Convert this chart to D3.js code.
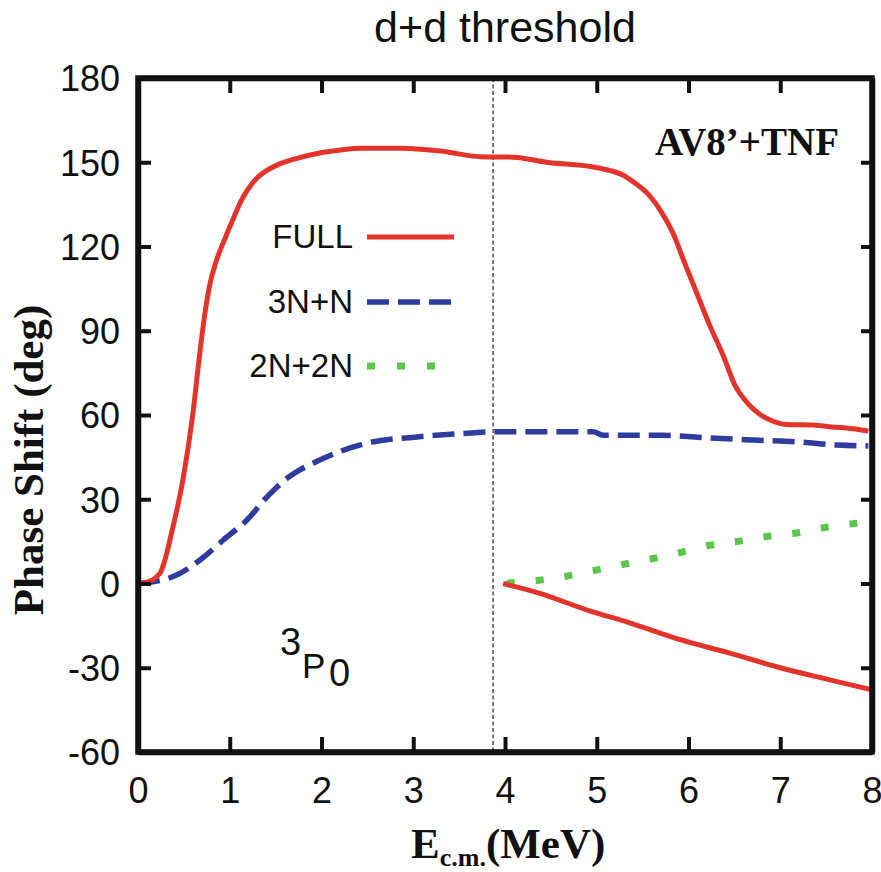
<!DOCTYPE html>
<html>
<head>
<meta charset="utf-8">
<script src="https://cdn.jsdelivr.net/npm/d3@7"></script>
<style>
  body { margin: 0; background: #fff; }
  svg { display: block; }
  .tick text { font-family: "Liberation Sans", Arial, sans-serif; font-size: 36px; fill: #111; }
</style>
</head>
<body>
<svg id="chart" width="881" height="872"></svg>
<script>
// FULL, first branch (from 0 up to 8 MeV)
var fullE = [0, 0.1, 0.24, 0.38, 0.49, 0.6, 0.67, 0.72, 0.78, 0.85, 0.95, 1.04, 1.12, 1.19, 1.3, 1.4, 1.55, 1.69, 1.98, 2.2, 2.42, 2.86, 3.0, 3.3, 3.73, 4.09, 4.45, 4.96, 5.15, 5.29, 5.42, 5.55, 5.7, 5.83, 5.96, 6.09, 6.23, 6.38, 6.45, 6.5, 6.56, 6.67, 6.78, 6.89, 7.07, 7.36, 7.6, 7.72, 7.96];
var fullDeg = [0, 0.5, 3.7, 20, 37, 61, 81, 94, 106, 114.5, 123, 130, 136, 140, 144.5, 147, 149.5, 151, 153.3, 154.3, 155, 155, 154.8, 154, 152, 151.8, 150, 148.3, 147, 145.4, 142.5, 139, 132.5, 124.8, 114, 103.4, 92, 81, 75, 71, 67.7, 63.3, 60.2, 58.2, 56.6, 56.4, 55.6, 55.4, 54.3];
// FULL, second branch (above d+d threshold)
var full2E = [3.98, 4.38, 4.89, 5.36, 5.91, 6.45, 7.0, 7.54, 8.0];
var full2Deg = [0, -3.5, -9.4, -14, -20, -24.8, -30, -34.3, -37.9];
// 3N+N
var n31E = [0, 0.1, 0.42, 0.7, 0.93, 1.22, 1.36, 1.51, 1.63, 1.75, 1.95, 2.2, 2.5, 3.04, 3.59, 3.87, 4.96, 5.07, 5.69, 6.23, 6.7, 7.21, 7.62, 7.96];
var n31Deg = [0, 0.3, 3, 9, 15.5, 23.7, 29.2, 34.2, 37.6, 40.2, 43.5, 47, 50, 52.2, 53.5, 54, 54, 52.8, 52.8, 51.8, 51.1, 50.4, 49.3, 49];
// 2N+2N
var n22E = [4.02, 4.35, 4.67, 4.98, 5.29, 5.6, 5.93, 6.23, 6.56, 6.87, 7.19, 7.52, 7.84, 7.95];
var n22Deg = [0.1, 1.1, 2.6, 4.7, 6.8, 8.8, 11.2, 13.6, 15.1, 16.8, 18.1, 20.1, 21.5, 22];

var thresholdE = 3.87;
var xTicks = [0, 1, 2, 3, 4, 5, 6, 7, 8];
var yTicks = [-60, -30, 0, 30, 60, 90, 120, 150, 180];

var legendNames = ["FULL", "3N+N", "2N+2N"];

var red = "#e3342b", blue = "#2f3c9e", green = "#5bc64b";

var svg = d3.select("#chart");
var plotLeft = 138, plotRight = 872, plotTop = 78, plotBottom = 752;

var x = d3.scaleLinear().domain([0, 8]).range([plotLeft, plotRight]);
var y = d3.scaleLinear().domain([-60, 180]).range([plotBottom, plotTop]);

function pts(es, ds) {
  return es.map(function(e, i) { return [e, ds[i]]; });
}
// plain hyphen for negatives, like the original
function plain(d) { return String(d); }

var line = d3.line()
  .x(function(d) { return x(d[0]); })
  .y(function(d) { return y(d[1]); })
  .curve(d3.curveMonotoneX);

// threshold marker
svg.append("line")
  .attr("x1", x(thresholdE)).attr("x2", x(thresholdE))
  .attr("y1", plotTop).attr("y2", plotBottom)
  .attr("stroke", "#222").attr("stroke-width", 1.2)
  .attr("stroke-dasharray", "4,2.5");

// curves
svg.append("path").datum(pts(n22E, n22Deg))
  .attr("d", line).attr("fill", "none")
  .attr("stroke", green).attr("stroke-width", 7)
  .attr("stroke-dasharray", "8,21");

svg.append("path").datum(pts(n31E, n31Deg))
  .attr("d", line).attr("fill", "none")
  .attr("stroke", blue).attr("stroke-width", 5.5)
  .attr("stroke-dasharray", "22,9");

svg.append("path").datum(pts(fullE, fullDeg))
  .attr("d", line).attr("fill", "none")
  .attr("stroke", red).attr("stroke-width", 5);

svg.append("path").datum(pts(full2E, full2Deg))
  .attr("d", line).attr("fill", "none")
  .attr("stroke", red).attr("stroke-width", 5);

// axes (ticks point inward)
var gx = svg.append("g").attr("transform", "translate(0," + plotBottom + ")")
  .call(d3.axisBottom(x).tickValues(xTicks).tickFormat(plain)
    .tickSizeInner(-15).tickSizeOuter(0).tickPadding(25));
var gy = svg.append("g").attr("transform", "translate(" + plotLeft + ",0)")
  .call(d3.axisLeft(y).tickValues(yTicks).tickFormat(plain)
    .tickSizeInner(-13).tickSizeOuter(0).tickPadding(18));
var gt = svg.append("g").attr("transform", "translate(0," + plotTop + ")")
  .call(d3.axisTop(x).tickValues(xTicks).tickFormat("")
    .tickSizeInner(-15).tickSizeOuter(0));
var gr = svg.append("g").attr("transform", "translate(" + plotRight + ",0)")
  .call(d3.axisRight(y).tickValues(yTicks).tickFormat("")
    .tickSizeInner(-11).tickSizeOuter(0));

[gx, gy, gt, gr].forEach(function(g) {
  g.select(".domain").attr("stroke", "#111").attr("stroke-width", 5.5);
  g.selectAll(".tick line").attr("stroke", "#111").attr("stroke-width", 4);
});
gx.selectAll(".tick text").attr("dy", null).attr("y", 51);
gy.selectAll(".tick text").attr("dy", "0.36em");

// frame
svg.append("rect")
  .attr("x", plotLeft).attr("y", plotTop)
  .attr("width", plotRight - plotLeft).attr("height", plotBottom - plotTop)
  .attr("fill", "none").attr("stroke", "#111").attr("stroke-width", 5.5);

// title
svg.append("text")
  .attr("x", 505).attr("y", 42)
  .attr("text-anchor", "middle")
  .style("font-family", "Liberation Sans, Arial, sans-serif")
  .style("font-size", "43px").attr("fill", "#111")
  .text("d+d threshold");

// y axis title
svg.append("text")
  .attr("transform", "translate(43,460) rotate(-90)")
  .attr("text-anchor", "middle")
  .style("font-family", "Liberation Serif, Times New Roman, serif")
  .style("font-weight", "bold").style("font-size", "43px").attr("fill", "#111")
  .text("Phase Shift (deg)");

// x axis title
var xt = svg.append("text")
  .attr("x", 411).attr("y", 858)
  .style("font-family", "Liberation Serif, Times New Roman, serif")
  .style("font-weight", "bold").attr("fill", "#111");
xt.append("tspan").style("font-size", "43px").text("E");
xt.append("tspan").style("font-size", "26px").attr("dy", 8).text("c.m.");
xt.append("tspan").style("font-size", "43px").attr("dy", -8).text("(MeV)");

// model label
svg.append("text")
  .attr("x", 655).attr("y", 155)
  .style("font-family", "Liberation Serif, Times New Roman, serif")
  .style("font-weight", "bold").style("font-size", "39px").attr("fill", "#111")
  .text("AV8\u2019+TNF");

// partial wave label
var pw = svg.append("g")
  .style("font-family", "Liberation Sans, Arial, sans-serif").attr("fill", "#111");
pw.append("text").attr("x", 280).attr("y", 655).style("font-size", "38px").text("3");
pw.append("text").attr("x", 302).attr("y", 678).style("font-size", "35px").text("P");
pw.append("text").attr("x", 329).attr("y", 686).style("font-size", "38px").text("0");

// legend
var legendY = [237, 302, 366];
var legendStyle = [
  { color: red, width: 5, dash: null },
  { color: blue, width: 5.5, dash: "22,9" },
  { color: green, width: 7, dash: "8,22" }
];
var lg = svg.append("g");
legendNames.forEach(function(name, i) {
  lg.append("text")
    .attr("x", 353).attr("y", legendY[i] + 11)
    .attr("text-anchor", "end")
    .style("font-family", "Liberation Sans, Arial, sans-serif")
    .style("font-size", "33px").attr("fill", "#111")
    .text(name);
  lg.append("line")
    .attr("x1", 367).attr("x2", 454)
    .attr("y1", legendY[i]).attr("y2", legendY[i])
    .attr("stroke", legendStyle[i].color)
    .attr("stroke-width", legendStyle[i].width)
    .attr("stroke-dasharray", legendStyle[i].dash);
});
</script>
</body>
</html>
